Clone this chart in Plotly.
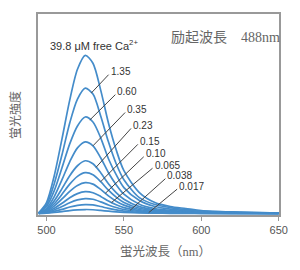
import numpy as np
import plotly.graph_objects as go

# ---- data ----
wavelength = [495, 500, 505, 510, 515, 520, 525, 530, 535, 540, 545, 550, 560, 570, 580, 590, 600, 620, 650]

ca_labels = ["39.8", "1.35", "0.60", "0.35", "0.23", "0.15", "0.10", "0.065", "0.038", "0.017", "0"]

intensity_39_8 = [0.8, 11, 38, 75, 114, 145, 159, 151, 124, 91, 64, 43, 21, 11, 7, 5, 3, 1.6, 0.5]
intensity_1_35 = [0.6, 9, 30, 59, 91, 115, 126, 120, 98, 72, 50, 34, 16, 9, 6, 4, 2.5, 1.3, 0.4]
intensity_0_60 = [0.5, 7, 23, 46, 70, 88, 97, 92, 76, 55, 39, 26, 13, 7, 4.4, 3, 2, 1, 0.3]
intensity_0_35 = [0.4, 5, 17, 34, 52, 66, 72, 68, 56, 41, 29, 19.5, 9.4, 5, 3.2, 2.2, 1.4, 0.7, 0.2]
intensity_0_23 = [0.3, 3.7, 12.7, 25, 38, 48, 53, 50, 41, 30, 21, 14.3, 6.9, 3.7, 2.4, 1.6, 1.1, 0.5, 0.2]
intensity_0_15 = [0.2, 2.9, 9.8, 19.3, 29.5, 37.3, 41, 39, 32, 23.4, 16.4, 11, 5.3, 2.9, 1.8, 1.2, 0.8, 0.4, 0.1]
intensity_0_10 = [0.2, 2.2, 7.4, 14.6, 22.3, 28.2, 31, 29.5, 24.2, 17.7, 12.4, 8.4, 4, 2.2, 1.4, 0.9, 0.6, 0.3, 0.1]
intensity_0_065 = [0.1, 1.5, 5.3, 10.3, 15.8, 20, 22, 20.9, 17.2, 12.5, 8.8, 5.9, 2.9, 1.5, 1, 0.7, 0.4, 0.2, 0.1]
intensity_0_038 = [0.1, 1.1, 3.6, 7, 10.8, 13.7, 15, 14.3, 11.7, 8.6, 6, 4, 2, 1.1, 0.7, 0.5, 0.3, 0.2, 0]
intensity_0_017 = [0, 0.6, 2.2, 4.2, 6.5, 8.2, 9, 8.6, 7, 5.1, 3.6, 2.4, 1.2, 0.6, 0.4, 0.3, 0.2, 0.1, 0]
intensity_0 = [0, 0.3, 1, 1.9, 2.9, 3.6, 4, 3.8, 3.1, 2.3, 1.6, 1.1, 0.5, 0.3, 0.2, 0.1, 0.1, 0, 0]

curves = [intensity_39_8, intensity_1_35, intensity_0_60, intensity_0_35, intensity_0_23,
          intensity_0_15, intensity_0_10, intensity_0_065, intensity_0_038, intensity_0_017, intensity_0]

# leader-line labels: curve index, wavelength where the line touches the curve
leader_curve_index = [1, 2, 3, 4, 5, 6, 7, 8, 9]
leader_wavelength = [529, 528, 530, 532, 535, 538, 542, 554, 566]
# label anchor positions (layout)
label_x = [540.1, 544.5, 550.8, 554.6, 559.0, 562.8, 568.5, 576.8, 584.4]
label_y = [139.5, 119.5, 101.5, 85.5, 69.5, 57.0, 45.5, 35.0, 24.5]

x_ticks = [500, 550, 600, 650]

# ---- figure ----
LINE_COLOR = "rgb(68,140,202)"
fig = go.Figure()
for name, ys in zip(ca_labels, curves):
    fig.add_trace(go.Scatter(x=wavelength, y=ys, mode="lines", name=name,
                             line=dict(color=LINE_COLOR, width=1.7, shape="spline", smoothing=0.8),
                             showlegend=False, hoverinfo="skip"))

shapes = []
annotations = []
for ci, wl, lx, ly in zip(leader_curve_index, leader_wavelength, label_x, label_y):
    y0 = float(np.interp(wl, wavelength, curves[ci]))
    shapes.append(dict(type="line", xref="x", yref="y", x0=wl, y0=y0, x1=lx, y1=ly,
                       line=dict(color="#444444", width=1)))
    annotations.append(dict(x=lx, y=ly, xref="x", yref="y", text=ca_labels[ci],
                            showarrow=False, xanchor="left", yanchor="middle",
                            xshift=1, yshift=3, borderpad=0,
                            font=dict(family="Liberation Sans, Arial", size=10, color="#333333")))

annotations.append(dict(x=0.04, y=0.8465, xref="paper", yref="paper",
                        text="39.8 μM free Ca<sup>2+</sup>", showarrow=False,
                        xanchor="left", yanchor="middle",
                        font=dict(family="Liberation Sans, Arial", size=11, color="#333333")))
annotations.append(dict(x=0.545, y=0.883, xref="paper", yref="paper",
                        text="励起波長　488nm", showarrow=False,
                        xanchor="left", yanchor="middle",
                        font=dict(family="Liberation Serif, Noto Sans CJK JP", size=14, color="#666666")))
annotations.append(dict(x=0.528, y=-0.183, xref="paper", yref="paper",
                        text="蛍光波長（nm）", showarrow=False,
                        xanchor="center", yanchor="middle",
                        font=dict(family="Liberation Serif, Noto Sans CJK JP", size=12.5, color="#666666")))
annotations.append(dict(x=-0.0976, y=0.5, xref="paper", yref="paper",
                        text="蛍光強度", showarrow=False, textangle=-90,
                        xanchor="center", yanchor="middle",
                        font=dict(family="Noto Sans CJK JP", size=12, color="#666666")))

fig.update_layout(
    width=300, height=270,
    margin=dict(l=38, r=16, t=13, b=55),
    paper_bgcolor="white", plot_bgcolor="white",
    shapes=shapes, annotations=annotations,
    xaxis=dict(range=[494.5, 650.2], tickvals=x_ticks, ticks="outside", ticklen=4,
               tickcolor="#999999", tickwidth=1, showgrid=False, zeroline=False,
               showline=True, linecolor="#999999", linewidth=1.5, mirror=True,
               tickfont=dict(family="Liberation Sans, Arial", size=11, color="#555555")),
    yaxis=dict(range=[-1.5, 200.5], showticklabels=False, ticks="", showgrid=False,
               zeroline=False, showline=True, linecolor="#999999", linewidth=1.5, mirror=True),
)

fig.write_html("out.html")
